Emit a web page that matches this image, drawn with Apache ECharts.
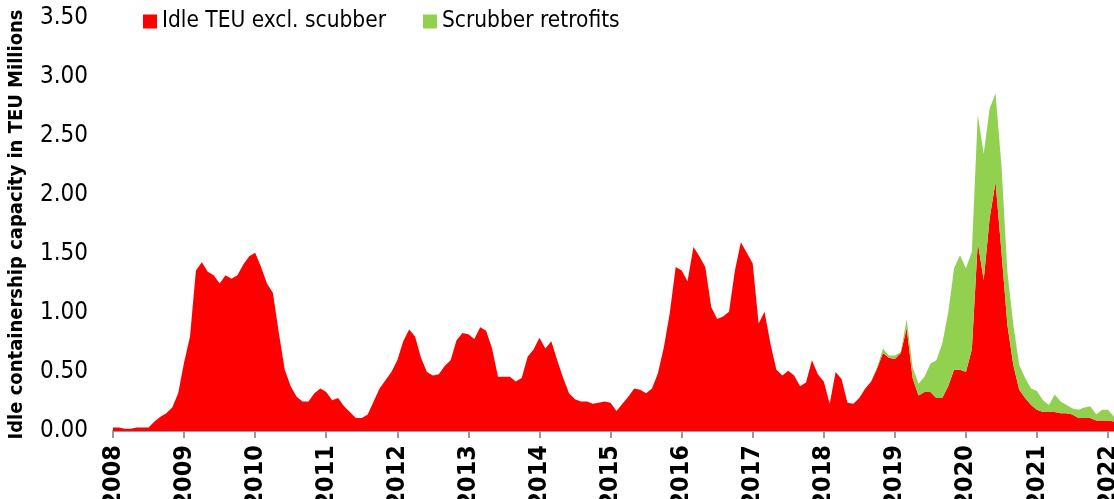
<!DOCTYPE html>
<html>
<head>
<meta charset="utf-8">
<script src="https://cdn.jsdelivr.net/npm/echarts@6/dist/echarts.min.js"></script>
<style>
  html, body { margin: 0; padding: 0; background: #fff; }
  #chart { width: 1114px; height: 499px; }
</style>
</head>
<body>
<div id="chart"></div>
<script>
// monthly, Jan 2008 .. Feb 2022 (million TEU)
const startYear = 2008;
const idleExclScrubber = [
  0.03, 0.03, 0.02, 0.02, 0.03, 0.03, 0.03, 0.08, 0.12, 0.15, 0.20, 0.32,
  0.58, 0.80, 1.36, 1.43, 1.35, 1.32, 1.25, 1.32, 1.29, 1.32, 1.41, 1.48,
  1.51, 1.39, 1.25, 1.17, 0.83, 0.52, 0.38, 0.29, 0.25, 0.25, 0.32, 0.36,
  0.33, 0.26, 0.28, 0.21, 0.16, 0.11, 0.11, 0.14, 0.25, 0.36, 0.43, 0.50,
  0.60, 0.76, 0.86, 0.80, 0.62, 0.50, 0.47, 0.48, 0.55, 0.60, 0.77, 0.83,
  0.82, 0.78, 0.88, 0.85, 0.70, 0.46, 0.46, 0.46, 0.42, 0.45, 0.63, 0.69,
  0.79, 0.70, 0.76, 0.60, 0.45, 0.32, 0.27, 0.25, 0.25, 0.23, 0.24, 0.25,
  0.24, 0.17, 0.23, 0.29, 0.36, 0.35, 0.32, 0.36, 0.49, 0.71, 1.00, 1.39,
  1.36, 1.27, 1.56, 1.48, 1.39, 1.05, 0.95, 0.97, 1.01, 1.36, 1.60, 1.51,
  1.42, 0.91, 1.01, 0.74, 0.52, 0.47, 0.51, 0.47, 0.38, 0.41, 0.60, 0.48,
  0.42, 0.23, 0.50, 0.44, 0.24, 0.23, 0.28, 0.36, 0.42, 0.53, 0.66, 0.62,
  0.61, 0.66, 0.87, 0.45, 0.30, 0.33, 0.33, 0.28, 0.28, 0.38, 0.52, 0.52,
  0.50, 0.69, 1.60, 1.28, 1.80, 2.11, 1.52, 0.90, 0.56, 0.35, 0.28, 0.22,
  0.18, 0.16, 0.16, 0.16, 0.15, 0.15, 0.14, 0.11, 0.11, 0.11, 0.09, 0.09,
  0.09, 0.08
];
const scrubberRetrofits = [
  0, 0, 0, 0, 0, 0, 0, 0, 0, 0, 0, 0,
  0, 0, 0, 0, 0, 0, 0, 0, 0, 0, 0, 0,
  0, 0, 0, 0, 0, 0, 0, 0, 0, 0, 0, 0,
  0, 0, 0, 0, 0, 0, 0, 0, 0, 0, 0, 0,
  0, 0, 0, 0, 0, 0, 0, 0, 0, 0, 0, 0,
  0, 0, 0, 0, 0, 0, 0, 0, 0, 0, 0, 0,
  0, 0, 0, 0, 0, 0, 0, 0, 0, 0, 0, 0,
  0, 0, 0, 0, 0, 0, 0, 0, 0, 0, 0, 0,
  0, 0, 0, 0, 0, 0, 0, 0, 0, 0, 0, 0,
  0, 0, 0, 0, 0, 0, 0, 0, 0, 0, 0, 0,
  0, 0, 0, 0, 0, 0, 0, 0, 0, 0.01, 0.04, 0.02,
  0.03, 0.01, 0.08, 0.09, 0.10, 0.13, 0.24, 0.32, 0.46, 0.62, 0.86, 0.97,
  0.88, 0.83, 1.08, 1.07, 0.93, 0.75, 0.73, 0.45, 0.34, 0.21, 0.17, 0.14,
  0.16, 0.10, 0.06, 0.15, 0.10, 0.07, 0.05, 0.07, 0.09, 0.10, 0.05, 0.09,
  0.09, 0.04
];
const seriesNames = ['Idle TEU excl. scubber', 'Scrubber retrofits'];
const seriesColors = ['#ff0000', '#92d050'];
const yTicks = [0, 0.5, 1, 1.5, 2, 2.5, 3, 3.5];

const months = idleExclScrubber.map((_, i) =>
  `${startYear + Math.floor(i / 12)}-${String(i % 12 + 1).padStart(2, '0')}`);

const font = '"Liberation Sans Narrow", "DejaVu Sans Condensed", sans-serif';
const chart = echarts.init(document.getElementById('chart'));

chart.setOption({
  animation: false,
  textStyle: { fontFamily: font },
  legend: {
    left: 143,
    top: 10,
    padding: 0,
    icon: 'rect',
    itemWidth: 14,
    itemHeight: 14,
    itemGap: 37,
    textStyle: { fontSize: 22.5, color: '#000', fontFamily: font },
    data: seriesNames
  },
  grid: { left: 113, right: 0, top: 18, bottom: 68, outerBoundsMode: 'none' },
  xAxis: {
    type: 'category',
    boundaryGap: false,
    data: months,
    axisLine: { lineStyle: { color: '#999', width: 2 } },
    axisTick: {
      length: 7,
      lineStyle: { color: '#999', width: 2 },
      interval: (i) => i % 12 === 0
    },
    axisLabel: {
      interval: (i) => i % 12 === 0,
      formatter: (v) => v.slice(0, 4),
      rotate: 90,
      margin: 14,
      fontSize: 25,
      fontWeight: 'bold',
      color: '#000',
      fontFamily: font,
      hideOverlap: false
    }
  },
  yAxis: {
    type: 'value',
    min: yTicks[0],
    max: yTicks[yTicks.length - 1],
    interval: 0.5,
    name: 'Idle containership capacity in TEU Millions',
    nameLocation: 'middle',
    nameGap: 86,
    nameTextStyle: { fontSize: 20, fontWeight: 'bold', color: '#000', fontFamily: font },
    axisLine: { show: false },
    axisTick: { show: false },
    splitLine: { show: false },
    axisLabel: {
      margin: 25,
      fontSize: 24,
      color: '#000',
      fontFamily: font,
      formatter: (v) => v.toFixed(2)
    }
  },
  series: [
    {
      name: seriesNames[0],
      type: 'line',
      stack: 'idle',
      data: idleExclScrubber,
      symbol: 'none',
      lineStyle: { width: 0 },
      itemStyle: { color: seriesColors[0] },
      areaStyle: { color: seriesColors[0], opacity: 1 }
    },
    {
      name: seriesNames[1],
      type: 'line',
      stack: 'idle',
      data: scrubberRetrofits,
      symbol: 'none',
      lineStyle: { width: 0 },
      itemStyle: { color: seriesColors[1] },
      areaStyle: { color: seriesColors[1], opacity: 1 }
    }
  ]
});
</script>
</body>
</html>
